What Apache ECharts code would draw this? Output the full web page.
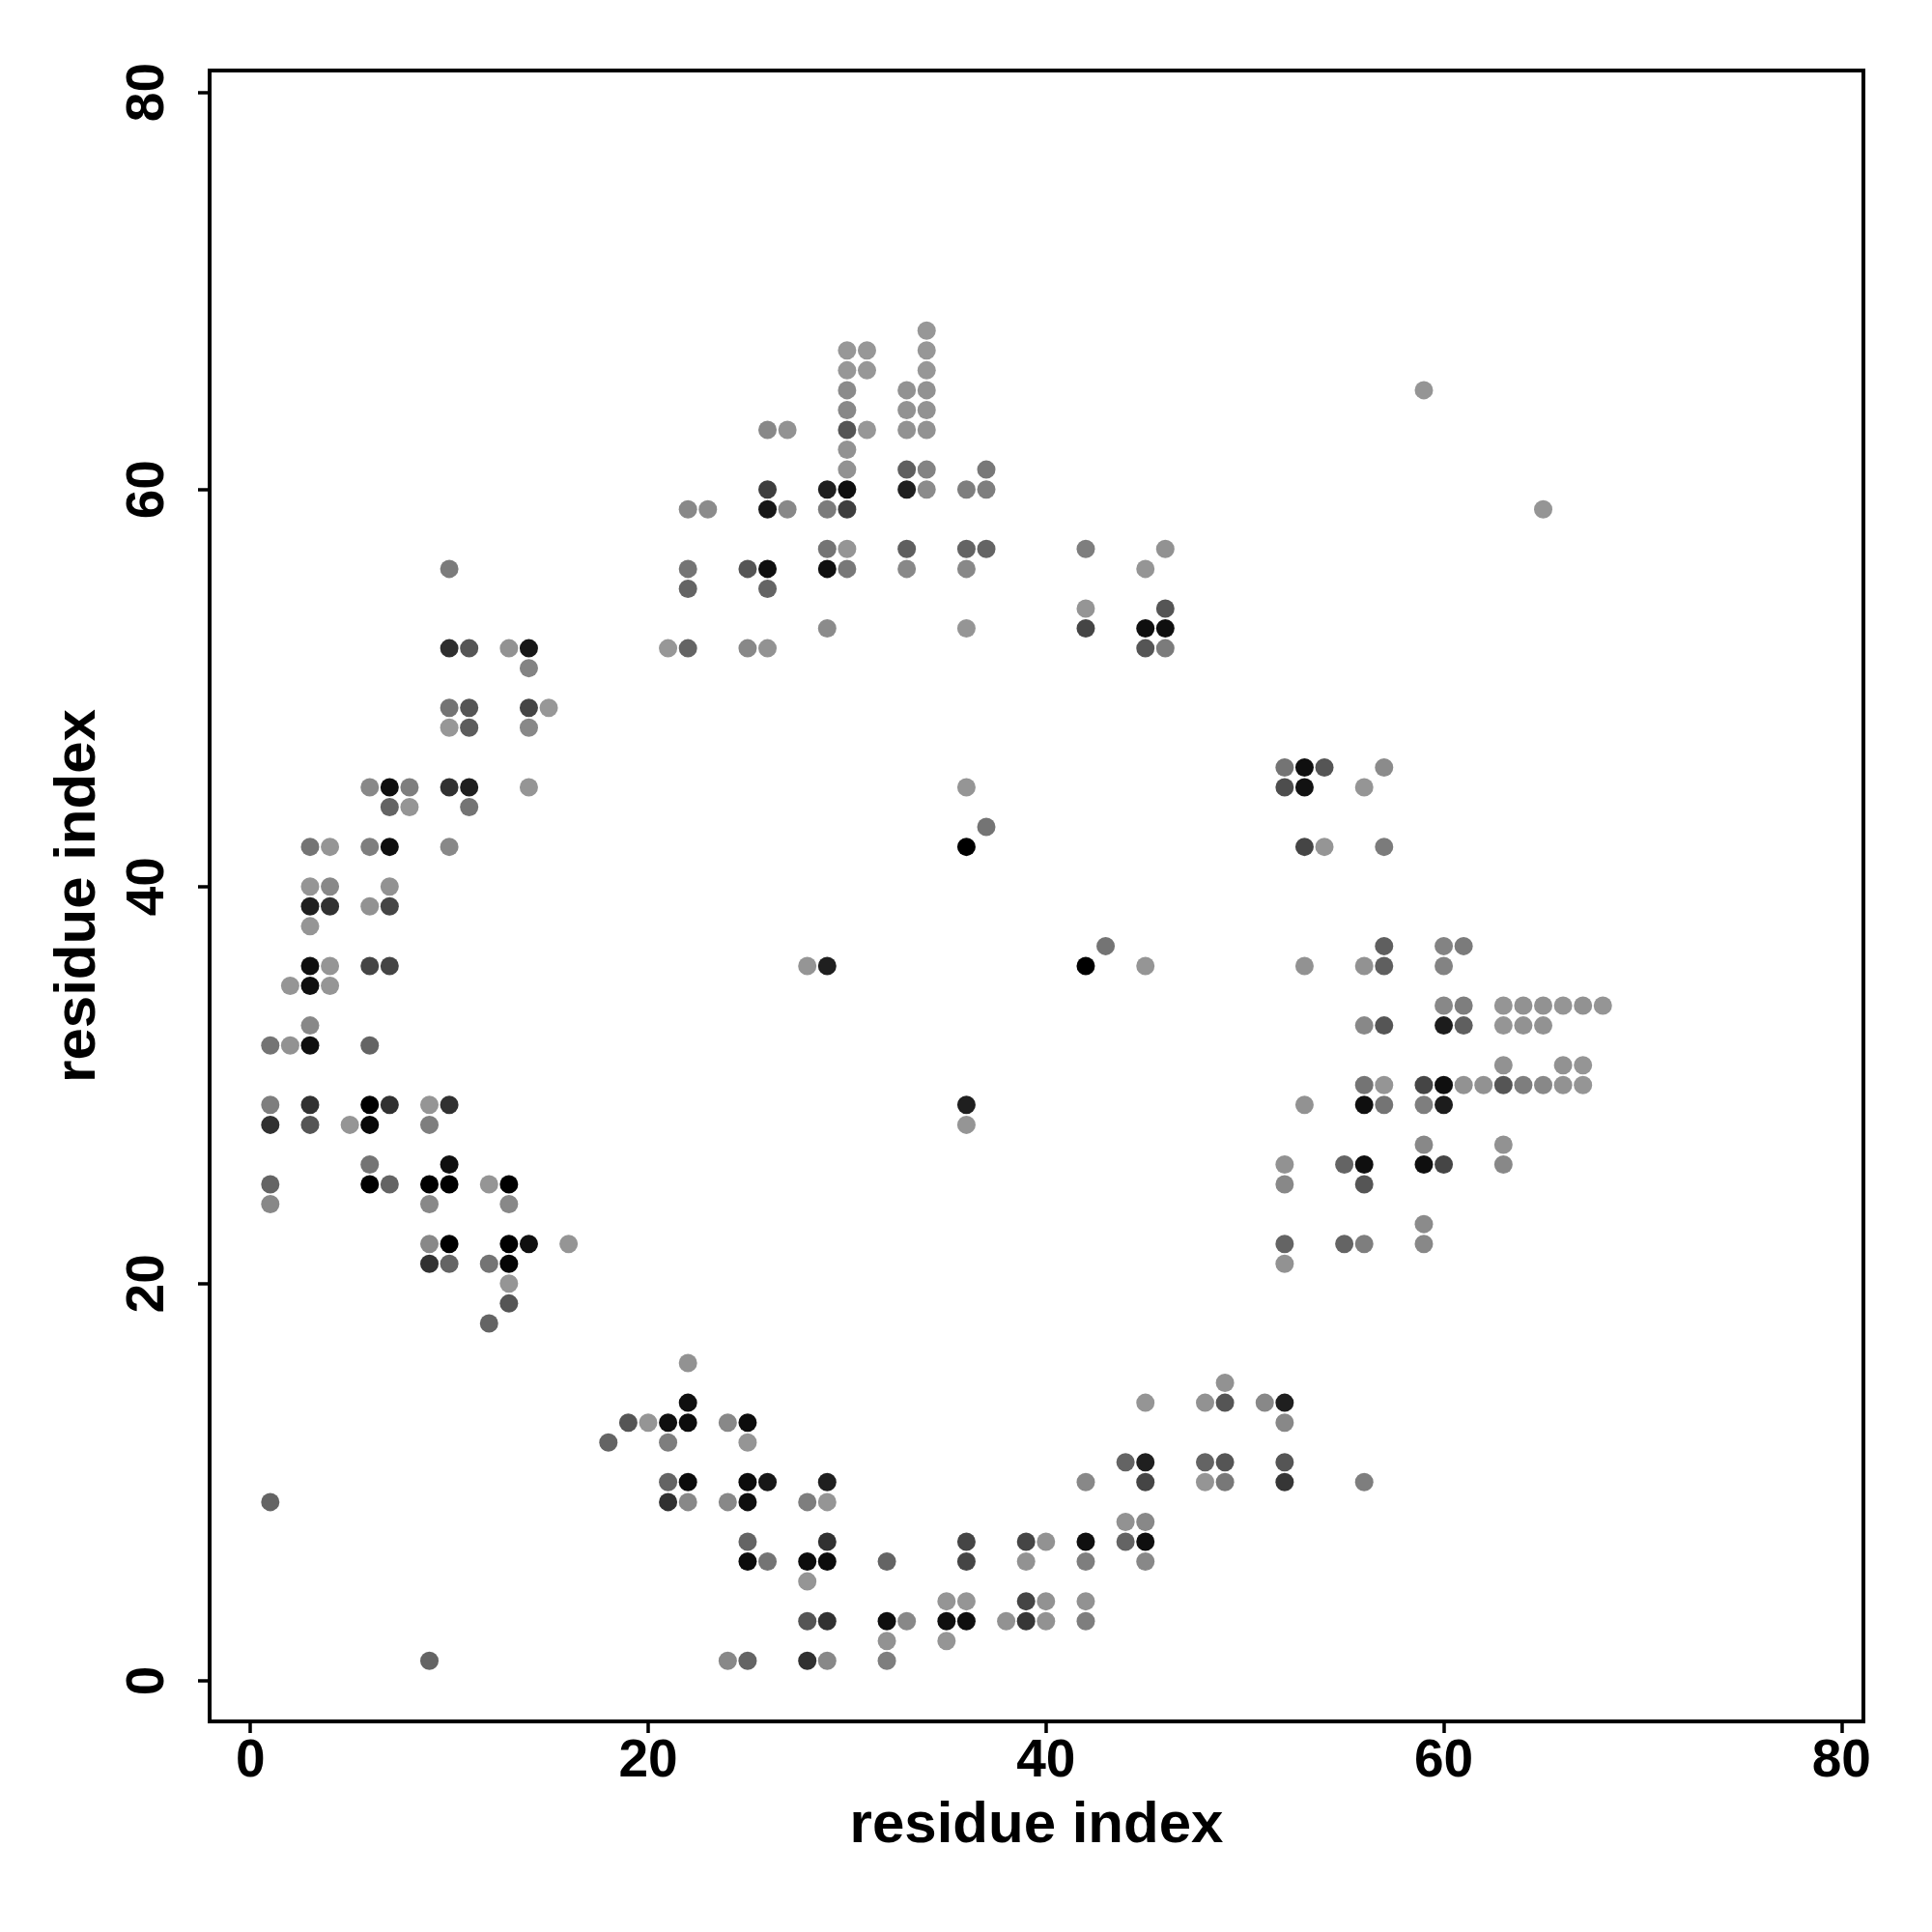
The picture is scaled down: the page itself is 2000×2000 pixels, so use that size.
<!DOCTYPE html>
<html>
<head>
<meta charset="utf-8">
<script src="https://cdn.jsdelivr.net/npm/echarts@6/dist/echarts.min.js"></script>
<style>html,body{margin:0;padding:0;background:#fff}#c{width:2000px;height:2000px}</style>
</head>
<body>
<div id="c"></div>
<script>
// Contact points: [residue i, residue j, strength (0 = light grey, 1 = black)]
const leftUpper = [[10,56,0.2],[10,52,0.7],[11,52,0.45],[13,52,0.05],[14,52,0.85],[14,51,0.15],[10,49,0.25],[11,49,0.45],[14,49,0.55],[15,49,0.02],[10,48,0.02],[11,48,0.4],[14,48,0.12],
[6,45,0.12],[7,45,0.9],[8,45,0.18],[10,45,0.68],[11,45,0.8],[14,45,0.03],[7,44,0.35],[8,44,0.03],[11,44,0.25],
[3,42,0.25],[4,42,0.03],[6,42,0.18],[7,42,0.9],[10,42,0.12],[3,40,0.03],[4,40,0.12],[7,40,0.05],[3,39,0.8],[4,39,0.68],[6,39,0.05],[7,39,0.55],[3,38,0.03]];

const leftLower = [[3,36,0.9],[4,36,0.03],[6,36,0.55],[7,36,0.55],[2,35,0.03],[3,35,0.9],[4,35,0.03],[3,33,0.12],[1,32,0.25],[2,32,0.05],[3,32,0.9],[6,32,0.35],
[1,29,0.18],[3,29,0.68],[6,29,1.0],[7,29,0.68],[9,29,0.03],[10,29,0.68],[1,28,0.68],[3,28,0.45],[5,28,0.03],[6,28,0.95],[9,28,0.18],
[6,26,0.25],[10,26,0.9],[1,25,0.35],[6,25,1.0],[7,25,0.35],[9,25,1.0],[10,25,1.0],[12,25,0.03],[13,25,1.0],[1,24,0.12],[9,24,0.12],[13,24,0.12],
[9,22,0.12],[10,22,1.0],[13,22,1.0],[14,22,0.9],[16,22,0.03],[9,21,0.68],[10,21,0.35],[12,21,0.25],[13,21,0.97],[13,20,0.03],[13,19,0.45],[12,18,0.35],[1,9,0.35],[9,1,0.35]];

const topMiddle = [[34,68,0.02],[30,67,0.02],[31,67,0.02],[34,67,0.02],[30,66,0.02],[31,66,0.02],[34,66,0.02],[30,65,0.1],[33,65,0.05],[34,65,0.05],[30,64,0.12],[33,64,0.05],[34,64,0.05],
[26,63,0.12],[27,63,0.05],[30,63,0.45],[31,63,0.02],[33,63,0.05],[34,63,0.05],[30,62,0.05],[30,61,0.05],[33,61,0.38],[34,61,0.15],[37,61,0.22],
[26,60,0.6],[29,60,0.8],[30,60,0.9],[33,60,0.8],[34,60,0.1],[36,60,0.18],[37,60,0.18],
[22,59,0.12],[23,59,0.1],[26,59,0.85],[27,59,0.12],[29,59,0.2],[30,59,0.6],
[29,57,0.25],[30,57,0.03],[33,57,0.38],[36,57,0.35],[37,57,0.35],[42,57,0.18],[46,57,0.05],
[22,56,0.25],[25,56,0.45],[26,56,0.9],[29,56,0.9],[30,56,0.22],[33,56,0.12],[36,56,0.12],[45,56,0.03],
[22,55,0.35],[26,55,0.35],[42,54,0.03],[46,54,0.45],[29,53,0.1],[36,53,0.03],[42,53,0.55],[45,53,0.9],[46,53,0.9],
[21,52,0.02],[22,52,0.35],[25,52,0.12],[26,52,0.05],[45,52,0.45],[46,52,0.2]];

const center = [[36,45,0.03],[37,43,0.25],[36,42,1.0],[43,37,0.25],[42,36,1.0],[45,36,0.03],[28,36,0.03],[29,36,0.8],[36,29,0.8],[36,28,0.03]];

const rightSide = [[59,65,0.03],[65,59,0.03],
[52,46,0.25],[53,46,0.9],[54,46,0.45],[57,46,0.1],[52,45,0.5],[53,45,0.88],[56,45,0.03],
[53,42,0.55],[54,42,0.03],[57,42,0.2],
[57,37,0.38],[60,37,0.15],[61,37,0.2],[53,36,0.05],[56,36,0.05],[57,36,0.38],[60,36,0.15],
[60,34,0.12],[61,34,0.18],[63,34,0.03],[64,34,0.05],[65,34,0.05],[66,34,0.03],[67,34,0.05],[68,34,0.03],
[56,33,0.12],[57,33,0.45],[60,33,0.82],[61,33,0.38],[63,33,0.03],[64,33,0.05],[65,33,0.05],
[63,31,0.05],[66,31,0.05],[67,31,0.03],
[56,30,0.25],[57,30,0.03],[59,30,0.55],[60,30,0.9],[61,30,0.05],[62,30,0.05],[63,30,0.45],[64,30,0.18],[65,30,0.12],[66,30,0.05],[67,30,0.03],
[53,29,0.05],[56,29,0.9],[57,29,0.25],[59,29,0.18],[60,29,0.82],
[59,27,0.12],[63,27,0.05],
[52,26,0.05],[55,26,0.35],[56,26,0.9],[59,26,0.9],[60,26,0.55],[63,26,0.12],
[52,25,0.12],[56,25,0.45],[59,23,0.1],
[52,22,0.35],[55,22,0.35],[56,22,0.18],[59,22,0.12],[52,21,0.05]];

const bottomLeft = [[22,16,0.05],[22,14,0.9],[19,13,0.45],[20,13,0.03],[21,13,0.9],[22,13,0.92],[24,13,0.12],[25,13,0.92],[18,12,0.35],[21,12,0.18],[25,12,0.03],
[21,10,0.35],[22,10,0.92],[25,10,0.92],[26,10,0.85],[29,10,0.8],[21,9,0.68],[22,9,0.12],[24,9,0.12],[25,9,0.9],[28,9,0.18],[29,9,0.03],
[25,7,0.35],[29,7,0.68],[25,6,0.92],[26,6,0.25],[28,6,0.92],[29,6,0.92],[32,6,0.35],[28,5,0.03],
[28,3,0.45],[29,3,0.68],[32,3,0.9],[33,3,0.12],[32,2,0.05],[24,1,0.12],[25,1,0.35],[28,1,0.68],[29,1,0.12],[32,1,0.18]];

const bottomRight = [[49,15,0.05],[45,14,0.03],[48,14,0.05],[49,14,0.45],[51,14,0.12],[52,14,0.8],[52,13,0.12],
[44,11,0.35],[45,11,0.8],[48,11,0.35],[49,11,0.45],[52,11,0.45],
[42,10,0.12],[45,10,0.55],[48,10,0.03],[49,10,0.22],[52,10,0.65],[56,10,0.18],
[44,8,0.05],[45,8,0.12],
[36,7,0.55],[39,7,0.55],[40,7,0.05],[42,7,0.9],[44,7,0.35],[45,7,0.9],
[36,6,0.55],[39,6,0.05],[42,6,0.18],[45,6,0.12],
[35,4,0.03],[36,4,0.03],[39,4,0.55],[40,4,0.05],[42,4,0.05],
[35,3,0.9],[36,3,0.9],[38,3,0.05],[39,3,0.65],[40,3,0.05],[42,3,0.18],[35,2,0.03]];

const tickValues = [0, 20, 40, 60, 80];
const axisTitle = 'residue index';

const allPoints = [].concat(leftUpper, leftLower, topMiddle, center, rightSide, bottomLeft, bottomRight);

const FONT = '"Liberation Sans", Arial, Helvetica, sans-serif';
const chart = echarts.init(document.getElementById('c'), null, {renderer: 'canvas'});
const axisCommon = {
  type: 'value',
  min: -2.05,
  max: 81.1,
  splitLine: {show: false},
  axisLine: {show: true, onZero: false, lineStyle: {color: '#000', width: 4}},
  axisTick: {show: true, customValues: tickValues, length: 12, inside: false, lineStyle: {color: '#000', width: 3.5}},
  name: axisTitle,
  nameLocation: 'middle',
  nameTextStyle: {fontFamily: FONT, fontWeight: 'bold', fontSize: 60, color: '#000'}
};
chart.setOption({
  animation: false,
  backgroundColor: '#fff',
  grid: {left: 217, top: 73, right: 71, bottom: 218, show: true, borderColor: '#000', borderWidth: 4, backgroundColor: 'transparent'},
  visualMap: {show: false, type: 'continuous', dimension: 2, min: 0, max: 1, inRange: {color: ['#9a9a9a', '#000000']}},
  xAxis: Object.assign({}, axisCommon, {
    nameGap: 78,
    axisLabel: {customValues: tickValues, margin: 14, fontFamily: FONT, fontWeight: 'bold', fontSize: 55, color: '#000'}
  }),
  yAxis: Object.assign({}, axisCommon, {
    nameGap: 106,
    nameRotate: 90,
    axisLabel: {customValues: tickValues, rotate: 90, margin: 36, fontFamily: FONT, fontWeight: 'bold', fontSize: 55, color: '#000'}
  }),
  series: [{
    type: 'scatter',
    symbol: 'circle',
    symbolSize: 19,
    data: allPoints,
    itemStyle: {opacity: 1}
  }]
});
</script>
</body>
</html>
